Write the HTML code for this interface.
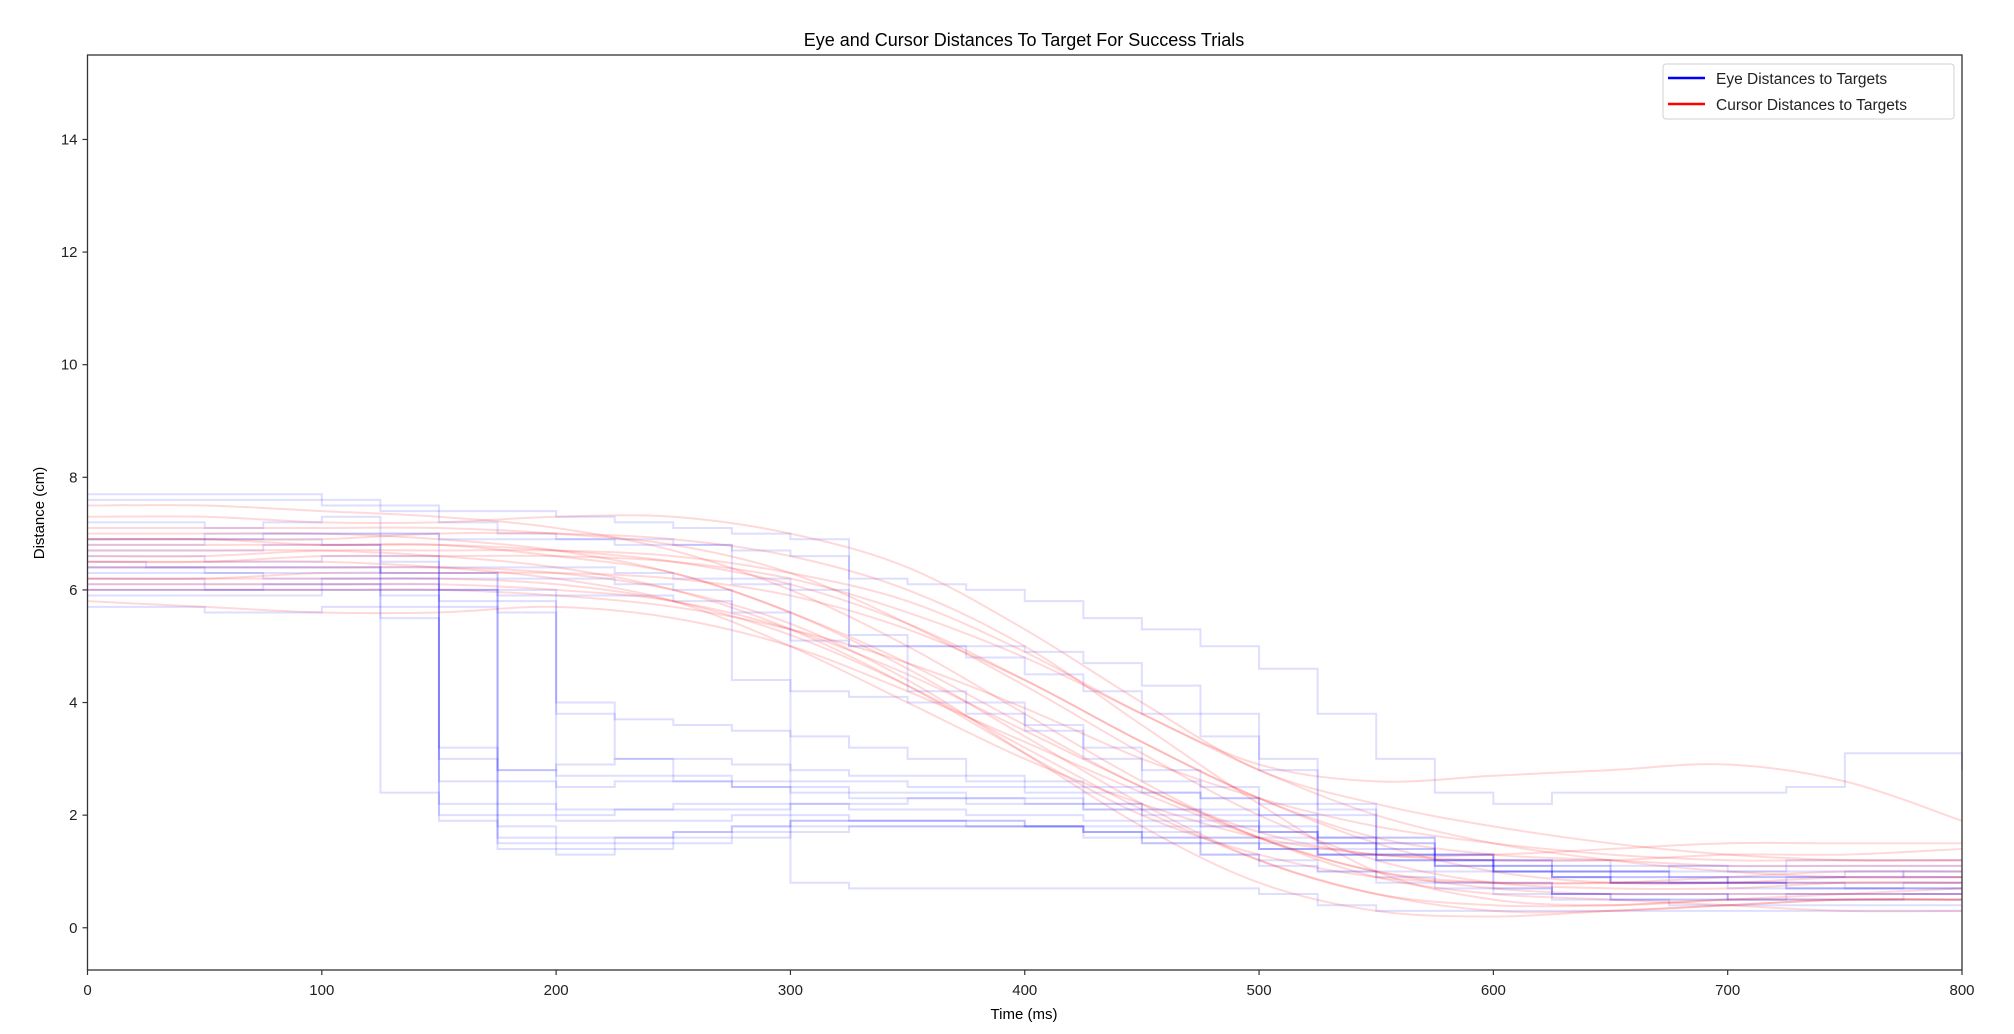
<!DOCTYPE html>
<html><head><meta charset="utf-8">
<style>
html,body{margin:0;padding:0;background:#fff;}
svg{display:block;font-family:"Liberation Sans","DejaVu Sans",sans-serif;}
</style></head>
<body>
<svg id="chart" width="2014" height="1034" xmlns="http://www.w3.org/2000/svg">
<rect x="0" y="0" width="2014" height="1034" fill="#fff"/>
<text x="1024" y="46" text-anchor="middle" font-size="18" fill="#000">Eye and Cursor Distances To Target For Success Trials</text>
<g id="series"></g>
<g id="axes"></g>
<text x="1024" y="1019" text-anchor="middle" font-size="15" fill="#000">Time (ms)</text>
<text transform="translate(44,513) rotate(-90)" text-anchor="middle" font-size="15" fill="#000">Distance (cm)</text>
<g>
<rect x="1663" y="64" width="291" height="55" rx="3" fill="#fff" stroke="#d0d0d0"/>
<line x1="1668" y1="78" x2="1705" y2="78" stroke="#0000ff" stroke-width="2.5"/>
<text x="1716" y="84" font-size="15.5" fill="#222">Eye Distances to Targets</text>
<line x1="1668" y1="104" x2="1705" y2="104" stroke="#ff0000" stroke-width="2.5"/>
<text x="1716" y="110" font-size="15.5" fill="#222">Cursor Distances to Targets</text>
</g>
</svg>
<script>
const xTicks=[0,100,200,300,400,500,600,700,800];
const yTicks=[0,2,4,6,8,10,12,14];
const cursorTimes=[0,50,100,150,200,250,300,350,400,450,500,550,600,650,700,750,800];
const cursorSeries=[
[7.5,7.5,7.4,7.3,7.1,6.7,6.0,5.0,3.8,2.6,1.6,1.0,0.7,0.6,0.6,0.6,0.6],
[7.0,7.0,7.0,6.9,6.7,6.3,5.6,4.6,3.4,2.2,1.2,0.6,0.4,0.4,0.5,0.5,0.5],
[6.8,6.8,6.8,6.8,6.7,6.5,6.1,5.4,4.4,3.3,2.3,1.5,1.0,0.8,0.8,0.9,0.9],
[6.5,6.5,6.5,6.4,6.2,5.8,5.0,4.0,3.0,2.2,1.6,1.3,1.2,1.2,1.3,1.3,1.4],
[6.2,6.2,6.2,6.2,6.1,5.8,5.2,4.3,3.2,2.1,1.2,0.6,0.3,0.3,0.4,0.5,0.5],
[6.0,6.0,6.0,6.0,5.9,5.7,5.3,4.7,3.9,3.0,2.3,1.8,1.5,1.3,1.2,1.2,1.2],
[5.8,5.7,5.6,5.6,5.7,5.5,5.0,4.2,3.3,2.4,1.6,1.0,0.8,0.8,0.9,1.0,1.0],
[7.3,7.3,7.2,7.2,7.3,7.3,7.0,6.4,5.3,4.0,2.8,2.2,1.8,1.5,1.3,1.2,1.2],
[6.6,6.6,6.7,6.7,6.7,6.6,6.3,5.8,4.9,3.8,2.9,2.6,2.7,2.8,2.9,2.6,1.9],
[6.9,6.9,6.9,7.0,7.0,6.9,6.6,6.0,5.0,3.6,2.2,1.0,0.5,0.4,0.5,0.6,0.7],
[6.4,6.4,6.4,6.4,6.3,6.0,5.4,4.4,3.1,1.8,0.8,0.3,0.2,0.3,0.4,0.5,0.5],
[7.1,7.1,7.1,7.1,7.0,6.8,6.3,5.4,4.3,3.1,2.0,1.2,0.8,0.7,0.7,0.8,0.8],
[6.2,6.2,6.3,6.3,6.3,6.2,5.9,5.3,4.4,3.3,2.3,1.6,1.3,1.2,1.1,1.1,1.1],
[6.7,6.7,6.7,6.6,6.4,6.0,5.3,4.3,3.1,2.0,1.3,0.9,0.8,0.8,0.8,0.8,0.8],
[6.9,6.9,6.8,6.8,6.6,6.3,5.6,4.7,3.6,2.5,1.7,1.3,1.3,1.4,1.5,1.5,1.5],
[6.5,6.5,6.6,6.6,6.6,6.5,6.2,5.6,4.8,3.8,2.8,2.0,1.5,1.2,1.0,0.9,0.9],
[6.1,6.1,6.1,6.1,6.0,5.8,5.3,4.5,3.5,2.5,1.6,0.9,0.6,0.5,0.4,0.3,0.3]
];
const eyeTimes=[0,25,50,75,100,125,150,175,200,225,250,275,300,325,350,375,400,425,450,475,500,525,550,575,600,625,650,675,700,725,750,775,800];
const eyeSeries=[
[6.3,6.3,6.3,6.2,6.2,2.4,1.9,1.5,1.4,1.5,1.6,1.7,1.8,1.8,1.8,1.8,1.8,1.7,1.6,1.5,1.4,1.3,1.2,1.1,1.0,0.9,0.8,0.8,0.8,0.7,0.7,0.7,0.7],
[6.8,6.8,6.9,6.9,6.8,6.6,3.0,2.6,2.5,2.6,2.6,2.5,2.5,2.4,2.4,2.3,2.2,2.2,2.1,2.0,1.8,1.6,1.4,1.2,1.0,0.9,0.8,0.8,0.9,0.9,1.0,1.0,1.0],
[6.1,6.1,6.0,6.0,6.1,6.1,6.0,2.8,2.9,3.0,3.0,2.9,2.8,2.7,2.7,2.6,2.6,2.5,2.4,2.3,2.0,1.6,1.3,1.1,1.0,1.0,1.0,1.1,1.1,1.2,1.2,1.2,1.2],
[7.2,7.2,7.1,7.2,7.3,5.5,2.2,2.0,2.0,2.1,2.1,2.1,2.2,2.1,2.1,2.0,2.0,1.9,1.9,1.8,1.7,1.6,1.5,1.3,1.2,1.1,1.0,0.9,0.9,0.9,0.9,1.0,1.0],
[6.5,6.4,6.4,6.4,6.4,6.3,6.2,1.6,1.5,1.6,1.7,1.8,1.9,1.9,1.9,1.9,1.8,1.7,1.6,1.5,1.4,1.3,1.2,1.0,0.8,0.6,0.5,0.5,0.5,0.6,0.6,0.6,0.6],
[5.7,5.7,5.6,5.6,5.7,5.7,5.7,5.6,1.9,1.9,1.9,2.0,2.0,1.9,1.9,1.8,1.8,1.7,1.5,1.3,1.1,1.0,0.8,0.7,0.6,0.5,0.5,0.4,0.4,0.4,0.4,0.4,0.4],
[6.9,6.9,6.9,7.0,7.0,7.0,6.9,6.9,6.9,6.9,6.8,6.7,6.6,5.0,4.2,4.0,3.6,3.2,2.8,2.5,2.0,1.5,1.3,1.2,1.0,0.9,0.8,0.8,0.7,0.7,0.7,0.8,0.8],
[7.6,7.6,7.6,7.6,7.5,7.5,7.4,7.4,7.3,7.2,7.1,7.0,6.9,6.2,6.1,6.0,5.8,5.5,5.3,5.0,4.6,3.8,3.0,2.4,2.2,2.4,2.4,2.4,2.4,2.5,3.1,3.1,2.8],
[6.6,6.6,6.5,6.5,6.6,6.5,6.4,6.4,6.4,6.3,6.2,6.1,6.0,5.2,5.0,4.8,4.5,4.2,3.8,3.4,2.8,2.1,1.6,1.2,0.8,0.6,0.5,0.5,0.6,0.6,0.6,0.6,0.6],
[6.2,6.2,6.1,6.1,6.2,6.2,5.8,5.8,3.8,3.0,2.6,2.5,2.4,2.3,2.3,2.2,2.2,2.1,2.0,1.8,1.6,1.4,1.3,1.3,1.2,1.2,1.1,1.1,1.0,1.0,1.0,0.9,0.9],
[6.0,6.0,6.0,6.1,6.1,6.0,6.0,5.9,5.9,5.9,5.8,5.6,4.2,4.1,4.0,3.8,3.5,3.0,2.6,2.1,1.7,1.3,1.0,0.8,0.7,0.6,0.6,0.6,0.5,0.5,0.5,0.5,0.5],
[6.7,6.7,6.7,6.8,6.8,6.2,2.0,1.4,1.3,1.4,1.5,1.6,1.7,1.8,1.8,1.8,1.8,1.8,1.7,1.6,1.5,1.5,1.4,1.3,1.2,1.0,0.9,0.8,0.8,0.9,0.9,0.9,0.9],
[6.9,6.9,7.0,7.0,7.0,7.0,3.2,2.8,2.7,2.7,2.7,2.6,2.6,2.6,2.5,2.5,2.5,2.4,2.4,2.3,2.2,2.0,1.6,1.3,1.1,1.0,0.9,0.9,0.8,0.8,0.8,0.8,0.8],
[5.9,5.9,5.9,5.9,6.0,6.0,6.0,6.0,4.0,3.7,3.6,3.5,3.4,3.2,3.0,2.7,2.4,2.1,1.8,1.6,1.4,1.3,1.2,1.1,1.1,1.0,1.0,1.0,1.0,1.1,1.1,1.1,1.1],
[6.4,6.4,6.4,6.4,6.4,6.3,6.3,6.2,6.2,6.1,6.0,4.4,0.8,0.7,0.7,0.7,0.7,0.7,0.7,0.7,0.6,0.4,0.3,0.3,0.3,0.3,0.3,0.3,0.3,0.3,0.3,0.3,0.3],
[7.7,7.7,7.7,7.7,7.6,7.4,7.2,7.0,6.9,6.8,6.8,6.2,5.1,5.0,5.0,5.0,4.9,4.7,4.3,3.8,3.0,2.2,1.5,1.2,1.0,0.9,0.8,0.8,0.8,0.7,0.7,0.7,0.7],
[6.4,6.4,6.3,6.3,6.3,6.4,6.3,2.2,2.1,2.1,2.2,2.2,2.2,2.2,2.3,2.3,2.3,2.2,2.1,1.9,1.7,1.5,1.3,1.2,1.1,1.1,1.0,0.9,0.8,0.8,0.7,0.7,0.7],
[6.0,6.0,6.0,6.0,6.0,5.9,2.6,1.8,1.6,1.6,1.7,1.8,1.9,1.9,1.9,1.9,1.8,1.6,1.5,1.3,1.2,1.0,0.9,0.8,0.7,0.6,0.6,0.6,0.5,0.5,0.5,0.6,0.6]
];
const X0=87.5,X1=1962,Y0=970,Y1=55,XMIN=0,XMAX=800,YMIN=-0.75,YMAX=15.5;
function sx(v){return X0+(v-XMIN)/(XMAX-XMIN)*(X1-X0);}
function sy(v){return Y0-(v-YMIN)/(YMAX-YMIN)*(Y0-Y1);}
const NS='http://www.w3.org/2000/svg';
const ser=document.getElementById('series');
const ax=document.getElementById('axes');
eyeSeries.forEach((vals,i)=>{
  let d='M'+sx(eyeTimes[0])+','+sy(vals[0]);
  for(let k=1;k<vals.length;k++){d+=' H'+sx(eyeTimes[k])+' V'+sy(vals[k]);}
  const p=document.createElementNS(NS,'path');
  p.setAttribute('d',d);p.setAttribute('fill','none');
  p.setAttribute('stroke','rgba(0,0,255,0.13)');p.setAttribute('stroke-width','2');
  
  
  ser.appendChild(p);
});
cursorSeries.forEach((vals,i)=>{
  const pts=vals.map((v,k)=>[sx(cursorTimes[k]),sy(v)]);
  let d='M'+pts[0][0]+','+pts[0][1];
  for(let k=0;k<pts.length-1;k++){
    const p0=pts[Math.max(0,k-1)],p1=pts[k],p2=pts[k+1],p3=pts[Math.min(pts.length-1,k+2)];
    const c1x=p1[0]+(p2[0]-p0[0])/6,c1y=p1[1]+(p2[1]-p0[1])/6;
    const c2x=p2[0]-(p3[0]-p1[0])/6,c2y=p2[1]-(p3[1]-p1[1])/6;
    d+=' C'+c1x+','+c1y+' '+c2x+','+c2y+' '+p2[0]+','+p2[1];
  }
  const p=document.createElementNS(NS,'path');
  p.setAttribute('d',d);p.setAttribute('fill','none');
  p.setAttribute('stroke','rgba(255,0,0,0.15)');p.setAttribute('stroke-width','2');
  
  
  ser.appendChild(p);
});
const frame=document.createElementNS(NS,'rect');
frame.setAttribute('x',X0);frame.setAttribute('y',Y1);
frame.setAttribute('width',X1-X0);frame.setAttribute('height',Y0-Y1);
frame.setAttribute('fill','none');frame.setAttribute('stroke','#333');frame.setAttribute('stroke-width','1.3');


ax.appendChild(frame);
xTicks.forEach(t=>{
  const l=document.createElementNS(NS,'line');
  l.setAttribute('x1',sx(t));l.setAttribute('x2',sx(t));l.setAttribute('y1',Y0);l.setAttribute('y2',Y0+5);
  l.setAttribute('stroke','#333');l.setAttribute('stroke-width','1.2');
  
  
  ax.appendChild(l);
  const tx=document.createElementNS(NS,'text');
  tx.setAttribute('x',sx(t));tx.setAttribute('y',Y0+25);tx.setAttribute('text-anchor','middle');
  tx.setAttribute('font-size','15');tx.setAttribute('fill','#222');tx.textContent=t;
  
  
  ax.appendChild(tx);
});
yTicks.forEach(t=>{
  const l=document.createElementNS(NS,'line');
  l.setAttribute('x1',X0-5);l.setAttribute('x2',X0);l.setAttribute('y1',sy(t));l.setAttribute('y2',sy(t));
  l.setAttribute('stroke','#333');l.setAttribute('stroke-width','1.2');
  
  
  ax.appendChild(l);
  const tx=document.createElementNS(NS,'text');
  tx.setAttribute('x',X0-10);tx.setAttribute('y',sy(t)+5);tx.setAttribute('text-anchor','end');
  tx.setAttribute('font-size','15');tx.setAttribute('fill','#222');tx.textContent=t;
  
  
  ax.appendChild(tx);
});
</script>
</body></html>
